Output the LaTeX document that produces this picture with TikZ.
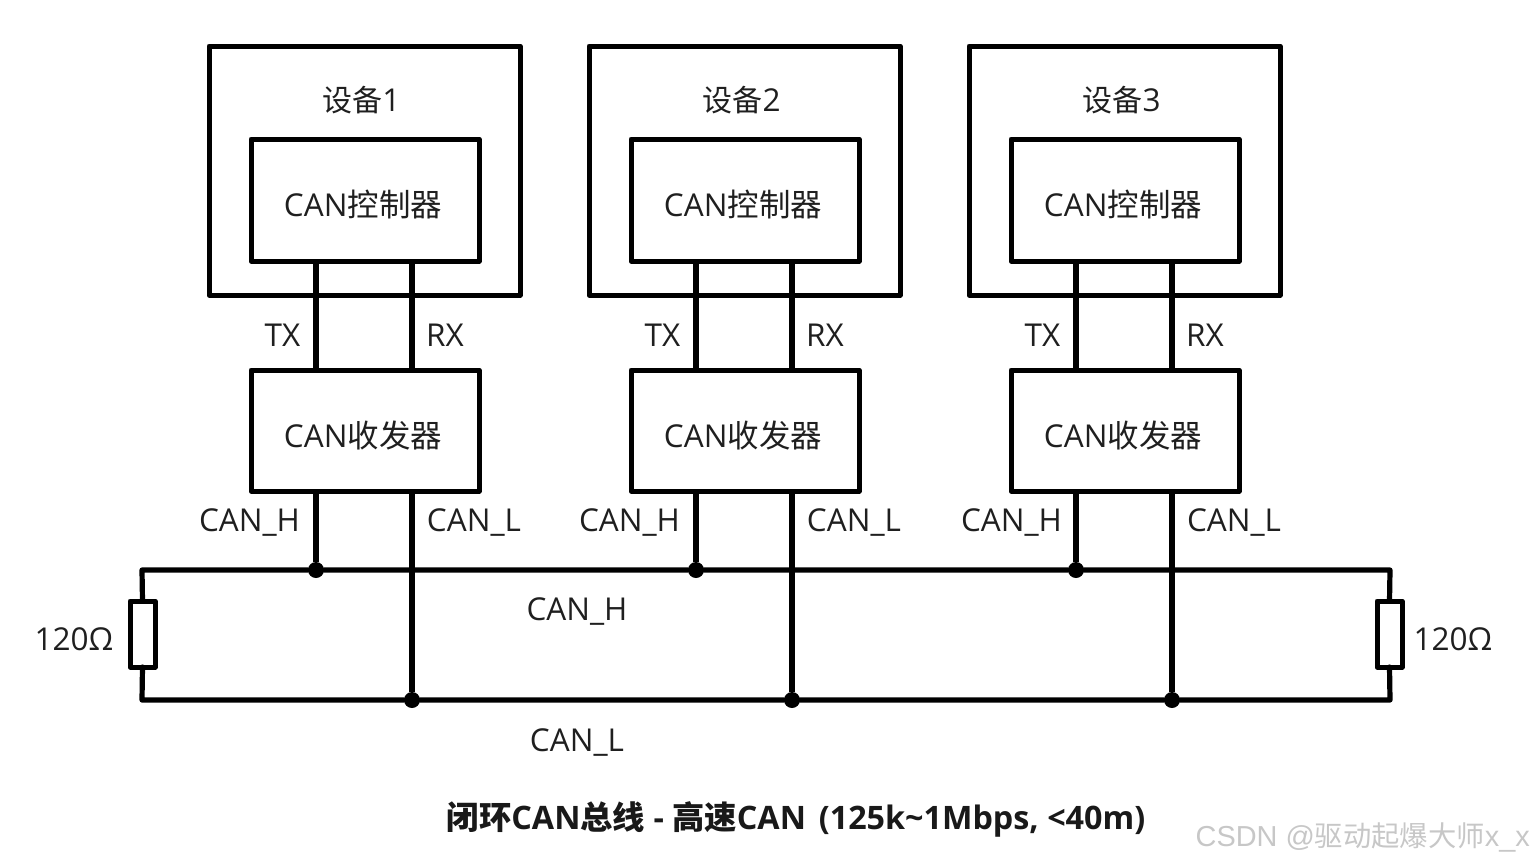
\documentclass[tikz,border=0pt]{standalone}
\usepackage{fontspec}
\setmainfont{Open Sans}
\newfontfamily\cjk{Noto Sans CJK SC}
\newfontfamily\wmfont{Liberation Sans}
\newfontfamily\wmcjk{Noto Sans CJK SC}[Scale=0.98]
\begin{document}
\begin{tikzpicture}[x=1pt,y=-1pt,
  box/.style={draw=black,line width=5pt,line join=round,fill=none,inner sep=0pt,outer sep=0pt},
  wire/.style={draw=black,line width=5.2pt,line join=round,line cap=round},
  lbl/.style={font=\fontsize{31.5}{36}\selectfont,text=black!88,inner sep=0pt},
  dot/.style={circle,fill=black,inner sep=0pt,minimum size=16pt}]
\useasboundingbox (0,0) rectangle (1534,863);
\def\devlabel#1{{\cjk\fontsize{30}{36}\selectfont 设备}#1}
\foreach \i/\dx/\cx in {1/0/249.5,2/380/629.5,3/760/1011.5}{
  \node[box,minimum width=311pt,minimum height=249pt] (dev\i) at (364.5+\dx,170.5) {};
  \node[box,minimum width=228pt,minimum height=122pt,lbl] (ctrl\i) at (365+\dx,200) {};
  \node[box,minimum width=228pt,minimum height=121pt,lbl] (trx\i) at (365+\dx,430.5) {};
  \node[lbl] (devt\i) at (361.5+\dx,100) {\devlabel{\i}};
  \node[lbl] (ctrlt\i) at (363+\dx,205) {CAN{\cjk 控制器}};
  \node[lbl] (trxt\i) at (363+\dx,435.5) {CAN{\cjk 收发器}};
  \coordinate (hx\i) at (316+\dx,570);
  \coordinate (lx\i) at (412+\dx,700);
  \node[dot] (hdot\i) at (hx\i) {};
  \node[dot] (ldot\i) at (lx\i) {};
  \draw[wire,line cap=butt] (ctrl\i.south -| hx\i) -- (trx\i.north -| hx\i);
  \draw[wire,line cap=butt] (ctrl\i.south -| lx\i) -- (trx\i.north -| lx\i);
  \draw[wire,line cap=butt] (trx\i.south -| hx\i) -- (hdot\i);
  \draw[wire,line cap=butt] (trx\i.south -| lx\i) -- (ldot\i);
  \node[lbl,anchor=base] (tx\i) at (282.5+\dx,346) {TX};
  \node[lbl,anchor=base] (rx\i) at (445+\dx,346) {RX};
  \node[lbl,anchor=base] (ch\i) at (\cx,531) {CAN\_H};
  \node[lbl,anchor=base] (cl\i) at (474+\dx,531) {CAN\_L};
}
\coordinate (hl) at (142,570);
\coordinate (hr) at (1390,570);
\coordinate (ll) at (142,700);
\coordinate (lr) at (1390,700);
\node[box,minimum width=25pt,minimum height=66pt] (resl) at (142.5,634) {};
\node[box,minimum width=25pt,minimum height=66pt] (resr) at (1389.5,634) {};
\draw[wire] (resl.north) -- (hl) -- (hdot1) -- (hdot2) -- (hdot3) -- (hr) -- (resr.north);
\draw[wire] (resl.south) -- (ll) -- (ldot1) -- (ldot2) -- (ldot3) -- (lr) -- (resr.south);
\node[lbl,anchor=base] (rl) at (74,650) {120Ω};
\node[lbl,anchor=base] (rr) at (1453,650) {120Ω};
\node[lbl,anchor=base] (busH) at (577,620) {CAN\_H};
\node[lbl,anchor=base] (busL) at (577,751) {CAN\_L};
\node[inner sep=0pt,text=black!90,font=\fontsize{32.3}{36}\selectfont\bfseries] (title) at (796,819) {{\cjk\bfseries 闭环}CAN{\cjk\bfseries 总线} - {\cjk\bfseries 高速}CAN\hspace{0.4em}(125k\textasciitilde 1Mbps, <40m)};
\node[inner sep=0pt,anchor=east,text=black!22,font=\fontsize{28.9}{32}\selectfont] (wm) at (1530,837) {\wmfont CSDN @{\wmcjk 驱动起爆大师}x\_x};
\end{tikzpicture}
\end{document}
